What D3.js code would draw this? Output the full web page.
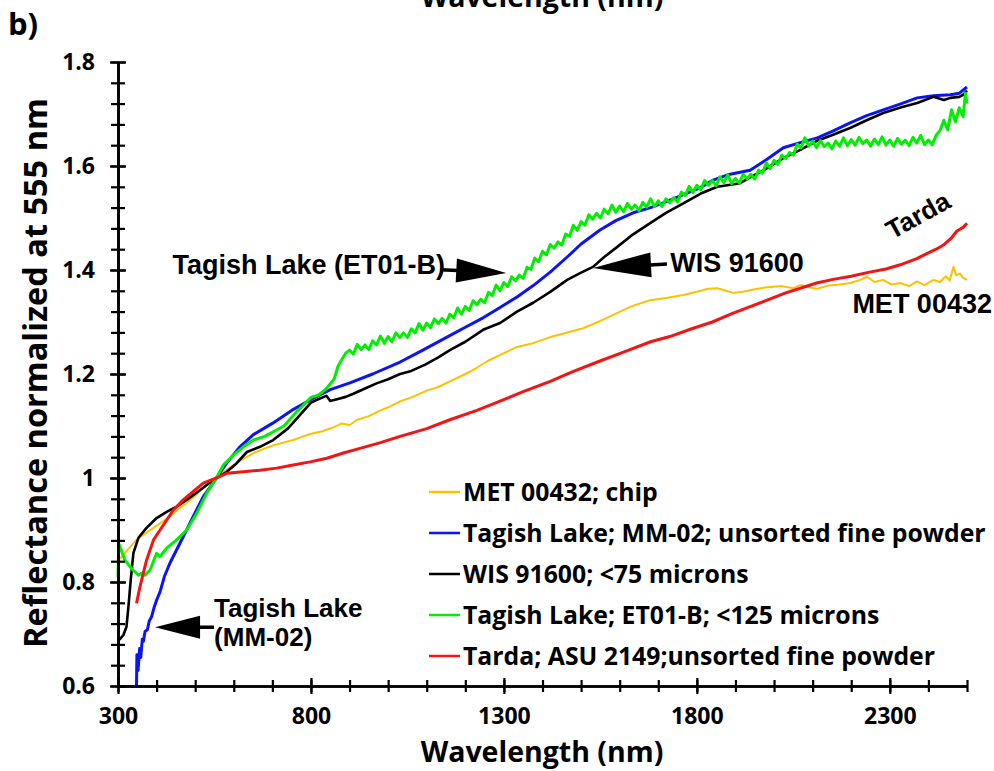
<!DOCTYPE html>
<html>
<head>
<meta charset="utf-8">
<script src="https://cdn.jsdelivr.net/npm/d3@7"></script>
<style>
  body { margin: 0; background: #fff; }
  .tick-label { font-family: "Open Sans", sans-serif; font-weight: bold; }
  .note { font-family: "Liberation Sans", Arial, sans-serif; font-weight: bold; font-size: 27px; }
</style>
</head>
<body>
<div id="chart"></div>
<script>

// ---- data: [wavelength nm, reflectance normalized at 555 nm] ----

var metData = [[300,0.842],[314,0.852],[330,0.866],[348,0.881],[370,0.893],[392,0.904],[413,0.915],[435,0.926],[456,0.94],[478,0.952],[500,0.966],[521,0.981],[540,0.993],[555,1.0],[578,1.014],[599,1.025],[625,1.037],[651,1.048],[677,1.056],[703,1.063],[728,1.068],[754,1.073],[780,1.08],[800,1.085],[830,1.09],[860,1.098],[880,1.105],[900,1.102],[920,1.112],[950,1.119],[980,1.13],[1000,1.136],[1030,1.147],[1060,1.155],[1100,1.168],[1130,1.175],[1160,1.186],[1200,1.2],[1230,1.212],[1260,1.226],[1300,1.24],[1334,1.252],[1370,1.258],[1420,1.271],[1460,1.279],[1505,1.288],[1550,1.302],[1593,1.317],[1630,1.33],[1679,1.342],[1720,1.346],[1765,1.352],[1800,1.358],[1830,1.364],[1853,1.365],[1875,1.36],[1894,1.356],[1920,1.358],[1950,1.363],[1982,1.367],[2020,1.369],[2050,1.365],[2068,1.371],[2090,1.367],[2112,1.364],[2140,1.37],[2170,1.372],[2197,1.375],[2220,1.38],[2241,1.387],[2260,1.377],[2283,1.381],[2305,1.372],[2327,1.375],[2350,1.369],[2370,1.378],[2390,1.371],[2413,1.381],[2430,1.377],[2445,1.388],[2455,1.38],[2465,1.406],[2472,1.39],[2482,1.393],[2490,1.385],[2500,1.381]];

var tagishMMData = [[348,0.602],[349,0.66],[352,0.63],[356,0.672],[359,0.655],[363,0.69],[366,0.686],[370,0.705],[376,0.708],[381,0.725],[387,0.733],[394,0.752],[400,0.765],[409,0.781],[420,0.81],[435,0.837],[452,0.862],[469,0.887],[495,0.926],[521,0.964],[551,0.995],[555,1.0],[582,1.029],[616,1.06],[650,1.083],[700,1.105],[750,1.13],[808,1.154],[850,1.17],[901,1.183],[960,1.2],[1031,1.223],[1090,1.246],[1150,1.27],[1200,1.29],[1246,1.308],[1290,1.328],[1334,1.348],[1376,1.37],[1420,1.396],[1464,1.425],[1500,1.45],[1549,1.477],[1590,1.495],[1635,1.51],[1680,1.52],[1723,1.532],[1765,1.545],[1808,1.558],[1842,1.573],[1880,1.583],[1938,1.592],[1980,1.612],[2024,1.635],[2068,1.645],[2112,1.654],[2155,1.668],[2197,1.683],[2240,1.697],[2283,1.708],[2330,1.72],[2371,1.731],[2413,1.735],[2457,1.737],[2480,1.74],[2500,1.752]];

var wisData = [[300,0.688],[305,0.69],[314,0.698],[322,0.714],[327,0.752],[333,0.804],[340,0.856],[353,0.885],[374,0.904],[400,0.923],[426,0.935],[452,0.945],[478,0.958],[513,0.977],[547,0.996],[582,1.012],[607,1.028],[634,1.05],[668,1.06],[702,1.073],[740,1.095],[770,1.12],[800,1.145],[820,1.152],[840,1.158],[850,1.148],[870,1.152],[890,1.156],[910,1.162],[940,1.172],[970,1.182],[1000,1.19],[1031,1.2],[1060,1.206],[1096,1.218],[1130,1.232],[1160,1.246],[1200,1.262],[1246,1.285],[1290,1.298],[1334,1.32],[1376,1.337],[1420,1.358],[1464,1.381],[1500,1.395],[1531,1.406],[1560,1.425],[1593,1.444],[1630,1.466],[1679,1.49],[1720,1.51],[1765,1.528],[1810,1.547],[1853,1.56],[1912,1.567],[1938,1.578],[1980,1.595],[2024,1.615],[2068,1.631],[2110,1.648],[2153,1.66],[2197,1.673],[2240,1.688],[2283,1.702],[2330,1.713],[2371,1.721],[2413,1.733],[2440,1.727],[2457,1.731],[2480,1.733],[2490,1.737],[2500,1.745]];

var tagishETData = [[300,0.81],[302,0.874],[318,0.842],[335,0.826],[353,0.813],[361,0.817],[370,0.813],[383,0.823],[400,0.855],[409,0.849],[426,0.865],[452,0.881],[478,0.9],[504,0.932],[530,0.971],[555,1.0],[573,1.025],[599,1.044],[625,1.06],[651,1.073],[680,1.08],[700,1.088],[730,1.1],[760,1.125],[780,1.14],[800,1.155],[820,1.16],[840,1.172],[860,1.19],[870,1.215],[880,1.228],[890,1.24],
    [900,1.246],[910,1.238],[920,1.257],[930,1.247],[940,1.256],[950,1.247],[960,1.264],[970,1.256],[980,1.273],[990,1.259],
    [1000,1.272],[1010,1.262],[1020,1.279],[1030,1.27],[1040,1.279],[1050,1.27],[1060,1.287],[1070,1.279],[1080,1.297],[1090,1.284],
    [1100,1.298],[1110,1.289],[1120,1.306],[1130,1.297],[1140,1.307],[1150,1.298],[1160,1.315],[1170,1.308],[1180,1.327],[1190,1.315],
    [1200,1.33],[1210,1.322],[1220,1.341],[1230,1.333],[1240,1.344],[1250,1.337],[1260,1.357],[1270,1.351],[1280,1.371],[1290,1.36],
    [1300,1.376],[1310,1.368],[1320,1.387],[1330,1.379],[1340,1.39],[1350,1.384],[1360,1.405],[1370,1.401],[1380,1.423],[1390,1.416],
    [1400,1.436],[1410,1.429],[1420,1.449],[1430,1.442],[1440,1.454],[1450,1.448],[1460,1.469],[1470,1.465],[1480,1.486],[1490,1.476],
    [1500,1.493],[1510,1.486],[1520,1.506],[1530,1.498],[1540,1.509],[1550,1.5],[1560,1.517],[1570,1.508],[1580,1.525],[1590,1.511],
    [1600,1.523],[1610,1.512],[1620,1.528],[1630,1.517],[1640,1.525],[1650,1.514],[1660,1.53],[1670,1.521],[1680,1.537],[1690,1.522],
    [1700,1.533],[1710,1.522],[1720,1.537],[1730,1.529],[1740,1.539],[1750,1.531],[1760,1.55],[1770,1.543],[1780,1.561],[1790,1.549],
    [1800,1.563],[1810,1.554],[1820,1.572],[1830,1.563],[1840,1.572],[1850,1.562],[1860,1.579],[1870,1.568],[1880,1.583],[1890,1.566],
    [1900,1.576],[1910,1.567],[1920,1.584],[1930,1.575],[1940,1.584],[1950,1.575],[1960,1.592],[1970,1.586],[1980,1.606],[1990,1.595],
    [2000,1.611],[2010,1.603],[2020,1.621],[2030,1.614],[2040,1.626],[2050,1.621],[2060,1.642],[2070,1.635],[2080,1.654],[2090,1.638],
    [2100,1.648],[2110,1.635],[2120,1.649],[2130,1.637],[2140,1.644],[2150,1.633],[2160,1.648],[2170,1.638],[2180,1.654],[2190,1.639],
    [2200,1.651],[2210,1.64],[2220,1.655],[2230,1.643],[2240,1.65],[2250,1.638],[2260,1.652],[2270,1.641],[2280,1.656],[2290,1.64],
    [2300,1.65],[2310,1.638],[2320,1.653],[2330,1.642],[2340,1.65],[2350,1.639],[2360,1.655],[2370,1.644],[2380,1.659],[2390,1.641],
    [2400,1.65],[2410,1.641],[2420,1.659],[2430,1.668],[2440,1.688],[2450,1.67],[2460,1.708],[2470,1.685],[2480,1.712],[2490,1.695],[2496,1.74],[2500,1.72]];

var tardaData = [[348,0.759],[357,0.791],[374,0.842],[392,0.881],[409,0.9],[426,0.919],[443,0.938],[469,0.958],[495,0.974],[521,0.99],[555,1.0],[582,1.009],[625,1.012],[668,1.015],[711,1.019],[754,1.025],[798,1.031],[841,1.038],[884,1.048],[927,1.057],[980,1.068],[1031,1.08],[1100,1.095],[1160,1.112],[1230,1.13],[1290,1.148],[1350,1.166],[1420,1.186],[1480,1.205],[1549,1.225],[1610,1.242],[1680,1.262],[1730,1.272],[1783,1.286],[1840,1.3],[1894,1.317],[1940,1.33],[1982,1.342],[2030,1.356],[2068,1.365],[2110,1.375],[2153,1.382],[2200,1.388],[2241,1.395],[2290,1.402],[2327,1.41],[2370,1.422],[2397,1.432],[2420,1.44],[2439,1.448],[2460,1.462],[2474,1.475],[2490,1.482],[2500,1.49]];

var seriesNames = [
    "MET 00432; chip",
    "Tagish Lake; MM-02; unsorted fine powder",
    "WIS 91600; <75 microns",
    "Tagish Lake; ET01-B; <125 microns",
    "Tarda; ASU 2149;unsorted fine powder"
];

var xTickLabels = [300, 800, 1300, 1800, 2300];
var yTickLabels = [0.6, 0.8, 1, 1.2, 1.4, 1.6, 1.8];

// ---- chart ----

var width = 994, height = 771;
var plot = {left: 118, right: 967, top: 62, bottom: 686};

var series = [
    {values: metData,       color: "#ffc000", width: 2},
    {values: tagishMMData,  color: "#0a14f5", width: 3},
    {values: wisData,       color: "#000000", width: 2.6},
    {values: tagishETData,  color: "#00ee00", width: 3},
    {values: tardaData,     color: "#f41414", width: 3}
];

var svg = d3.select("#chart").append("svg")
    .attr("width", width)
    .attr("height", height)
    .style("font-family", "'Open Sans', sans-serif");

var x = d3.scaleLinear().domain([300, 2500]).range([plot.left, plot.right]);
var y = d3.scaleLinear().domain([0.6, 1.8]).range([plot.bottom, plot.top]);

//panel letter and the cut off title of the panel above
svg.append("text")
    .attr("x", 8).attr("y", 35)
    .style("font-size", "31px").style("font-weight", "bold")
    .text("b)");

svg.append("text")
    .attr("x", 542).attr("y", 7)
    .attr("text-anchor", "middle")
    .style("font-size", "28.5px").style("font-weight", "bold")
    .text("Wavelength (nm)");

//draws the lines, first is drawn at the bottom
var line = d3.line()
    .x(function(d) { return x(d[0]); })
    .y(function(d) { return y(d[1]); });

svg.selectAll(".spectrum").data(series)
    .enter().append("path")
    .attr("class", "spectrum")
    .attr("d", function(d) { return line(d.values); })
    .style("fill", "none")
    .style("stroke", function(d) { return d.color; })
    .style("stroke-width", function(d) { return d.width; })
    .style("stroke-linejoin", "round");

//axes, ticks cross the axis line
var xMinor = svg.append("g")
    .attr("transform", "translate(0," + plot.bottom + ")")
    .call(d3.axisBottom(x).tickValues(d3.range(300, 2501, 100)).tickSize(0).tickFormat(""));
xMinor.selectAll(".tick line").attr("y1", -6).attr("y2", 6);

var xMajor = svg.append("g")
    .attr("transform", "translate(0," + plot.bottom + ")")
    .call(d3.axisBottom(x).tickValues(xTickLabels).tickSize(0).tickPadding(22)
        .tickFormat(function(d) { return d; }));
xMajor.selectAll(".tick line").attr("y1", -8).attr("y2", 8);

var yMinor = svg.append("g")
    .attr("transform", "translate(" + plot.left + ",0)")
    .call(d3.axisLeft(y).tickValues(d3.range(0, 31).map(function(i) { return 0.6 + i * 0.04; }))
        .tickSize(0).tickFormat(""));
yMinor.selectAll(".tick line").attr("x1", -7).attr("x2", 7);

var yMajor = svg.append("g")
    .attr("transform", "translate(" + plot.left + ",0)")
    .call(d3.axisLeft(y).tickValues(yTickLabels).tickSize(0).tickPadding(23)
        .tickFormat(function(d) { return String(d); }));
yMajor.selectAll(".tick line").attr("x1", -8).attr("x2", 8);

[xMinor, xMajor, yMinor, yMajor].forEach(function(g) {
    g.selectAll(".tick line").attr("stroke-width", 2.2);
    g.select(".domain").attr("stroke-width", 2.6);
    g.selectAll(".tick text")
        .attr("class", "tick-label")
        .style("font-size", "23px")
        .attr("fill", "#000");
});

//axis titles
svg.append("text")
    .attr("x", 542).attr("y", 762)
    .attr("text-anchor", "middle")
    .style("font-size", "28.5px").style("font-weight", "bold")
    .text("Wavelength (nm)");

svg.append("text")
    .attr("transform", "translate(47,373) rotate(-90)")
    .attr("text-anchor", "middle")
    .style("font-size", "32.5px").style("font-weight", "bold")
    .text("Reflectance normalized at 555 nm");

//legend
var legend = svg.append("g").attr("transform", "translate(429,492)");
var rows = legend.selectAll(".row").data(series)
    .enter().append("g")
    .attr("class", "row")
    .attr("transform", function(d, i) { return "translate(0," + i * 41 + ")"; });

rows.append("line")
    .attr("x1", 0).attr("x2", 31)
    .style("stroke", function(d) { return d.color; })
    .style("stroke-width", 2.5);

rows.append("text")
    .attr("x", 34).attr("dy", "0.36em")
    .style("font-size", "24.8px").style("font-weight", "bold")
    .text(function(d, i) { return seriesNames[i]; });

//annotations, anchored in data units
var notes = [
    {text: "Tagish Lake (ET01-B)", nm: 441, v: 1.392, size: 27},
    {text: "WIS 91600", nm: 1731, v: 1.396, size: 27},
    {text: "MET 00432", nm: 2203, v: 1.317, size: 27},
    {text: "Tagish Lake", nm: 549, v: 0.733, size: 26},
    {text: "(MM-02)", nm: 549, v: 0.677, size: 26}
];

svg.selectAll(".note").data(notes)
    .enter().append("text")
    .attr("class", "note")
    .attr("x", function(d) { return x(d.nm); })
    .attr("y", function(d) { return y(d.v); })
    .style("font-size", function(d) { return d.size + "px"; })
    .text(function(d) { return d.text; });

svg.append("text")
    .attr("class", "note")
    .style("font-size", "26px")
    .attr("transform", "translate(" + x(2306) + "," + y(1.458) + ") rotate(-29)")
    .text("Tarda");

//arrows: tip in data units, then length / half width / shaft in px, angle in degrees
var arrows = [
    {nm: 1306, v: 1.394, angle: 183, len: 50, half: 12, shaft: 16},
    {nm: 1531, v: 1.404, angle: -3, len: 58, half: 12.5, shaft: 16},
    {nm: 396, v: 0.713, angle: 0, len: 45, half: 11.5, shaft: 14}
];

arrows.forEach(function(a) {
    var tx = x(a.nm), ty = y(a.v);
    var g = svg.append("g")
        .attr("transform", "translate(" + tx + "," + ty + ") rotate(" + a.angle + ")");
    g.append("path")
        .attr("d", "M0,0L" + a.len + "," + (-a.half) + "L" + a.len + "," + a.half + "Z")
        .style("fill", "#000");
    g.append("line")
        .attr("x1", a.len - 1).attr("x2", a.len + a.shaft)
        .attr("y1", 0).attr("y2", 0)
        .style("stroke", "#000").style("stroke-width", 3.5);
});

</script>
</body>
</html>
